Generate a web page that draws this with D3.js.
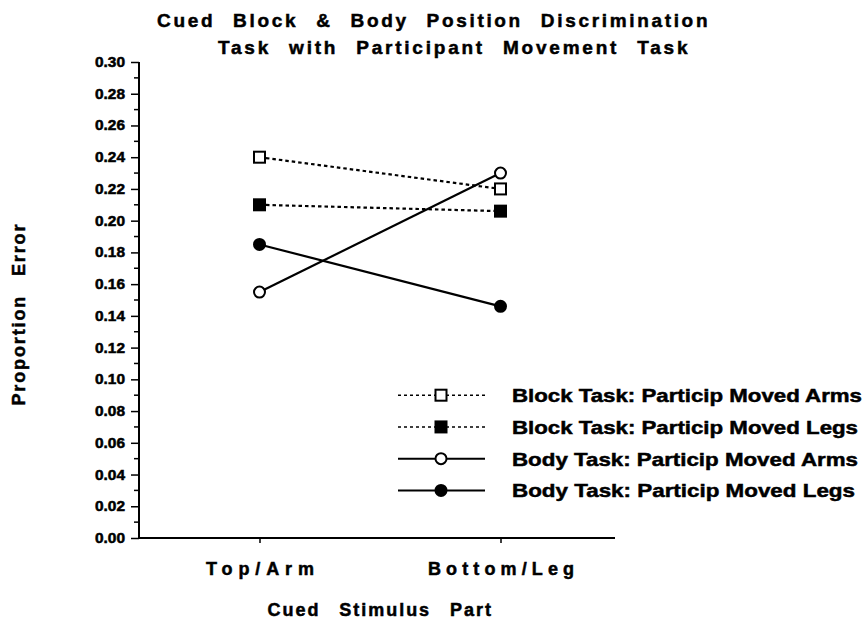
<!DOCTYPE html>
<html>
<head>
<meta charset="utf-8">
<script src="https://cdn.jsdelivr.net/npm/d3@7"></script>
<style>
  html, body { margin: 0; padding: 0; background: #fff; }
  svg text { font-family: "Liberation Sans", Arial, Helvetica, sans-serif; font-weight: bold; fill: #000; stroke: #000; stroke-width: 0.5px; }
</style>
</head>
<body>
<svg id="chart" width="865" height="619"></svg>
<script>
// ---- data ----
const categories = ["Top/Arm", "Bottom/Leg"];
const seriesNames = [
  "Block Task: Particip Moved Arms",
  "Block Task: Particip Moved Legs",
  "Body Task: Particip Moved Arms",
  "Body Task: Particip Moved Legs"
];
const blockArms = [0.240, 0.220];
const blockLegs = [0.210, 0.206];
const bodyArms  = [0.155, 0.230];
const bodyLegs  = [0.185, 0.146];
const yTicks = [0.00,0.02,0.04,0.06,0.08,0.10,0.12,0.14,0.16,0.18,0.20,0.22,0.24,0.26,0.28,0.30];
const titleLines = ["Cued Block & Body Position Discrimination", "Task with Participant Movement Task"];
const xTitle = "Cued Stimulus Part";
const yTitle = "Proportion Error";

const series = [
  {name: seriesNames[0], values: blockArms, dash: "3.5,3", marker: "square", fill: "#fff"},
  {name: seriesNames[1], values: blockLegs, dash: "3.5,3", marker: "square", fill: "#000"},
  {name: seriesNames[2], values: bodyArms,  dash: null,  marker: "circle", fill: "#fff"},
  {name: seriesNames[3], values: bodyLegs,  dash: null,  marker: "circle", fill: "#000"}
];

(function () {
const svg = d3.select("#chart");
const mLeft = 139, mRight = 621, mTop = 62, mBottom = 538;

const x = d3.scalePoint().domain(categories).range([mLeft, mRight]).padding(0.5);
const y = d3.scaleLinear().domain([0, 0.30]).range([mBottom, mTop]);

// title
svg.append("text").attr("x", 157).attr("y", 27).attr("font-size", 19)
  .attr("letter-spacing", "2.5px").attr("word-spacing", "10px")
  .attr("textLength", 553).attr("lengthAdjust", "spacing").text(titleLines[0]);
svg.append("text").attr("x", 218).attr("y", 54).attr("font-size", 19)
  .attr("letter-spacing", "2.5px").attr("word-spacing", "10px")
  .attr("textLength", 472).attr("lengthAdjust", "spacing").text(titleLines[1]);

// y axis
const yAxis = d3.axisLeft(y).tickValues(yTicks).tickFormat(d3.format(".2f")).tickSize(8).tickPadding(6);
const gy = svg.append("g").attr("transform", `translate(${mLeft},0)`).call(yAxis);
gy.select(".domain").attr("stroke", "#000").attr("stroke-width", 2).attr("d", `M0,${mTop}V${mBottom}`);
gy.selectAll(".tick line").attr("stroke", "#000").attr("stroke-width", 1.5);
gy.selectAll(".tick text").attr("font-size", 14).attr("font-family", "Liberation Sans, Arial, sans-serif")
  .attr("font-weight", "bold").attr("textLength", 30).attr("lengthAdjust", "spacingAndGlyphs");
// minor ticks
const minor = d3.range(0.01, 0.30, 0.02);
gy.selectAll(".minor").data(minor).enter().append("line")
  .attr("x1", -5).attr("x2", 0).attr("y1", d => y(d)).attr("y2", d => y(d))
  .attr("stroke", "#000").attr("stroke-width", 1.5);

// x axis
const xAxis = d3.axisBottom(x).tickSize(5).tickPadding(19);
const gx = svg.append("g").attr("transform", `translate(0,${mBottom})`).call(xAxis);
gx.select(".domain").attr("stroke", "#000").attr("stroke-width", 2).attr("d", `M${mLeft},0H615`);
gx.selectAll(".tick line").attr("stroke", "#000").attr("stroke-width", 1.5);
const xLabelLen = {"Top/Arm": 108, "Bottom/Leg": 146};
gx.selectAll(".tick text").attr("font-size", 18).attr("font-family", "Liberation Sans, Arial, sans-serif")
  .attr("font-weight", "bold").attr("textLength", d => xLabelLen[d]).attr("lengthAdjust", "spacing");

// axis titles
svg.append("text").attr("x", 380).attr("y", 616).attr("text-anchor", "middle").attr("font-size", 18)
  .attr("letter-spacing", "1.5px").attr("word-spacing", "12px")
  .attr("textLength", 225).attr("lengthAdjust", "spacing").text(xTitle);
svg.append("text").attr("transform", `translate(25,314) rotate(-90)`).attr("text-anchor", "middle")
  .attr("font-size", 18).attr("letter-spacing", "2px").attr("word-spacing", "12px")
  .attr("textLength", 183).attr("lengthAdjust", "spacing").text(yTitle);

function drawMarker(g, cx, cy, s) {
  if (s.marker === "square") {
    g.append("rect").attr("x", cx - 5.5).attr("y", cy - 5.5).attr("width", 11).attr("height", 11)
      .attr("fill", s.fill).attr("stroke", "#000").attr("stroke-width", 2);
  } else {
    g.append("circle").attr("cx", cx).attr("cy", cy).attr("r", 5.5)
      .attr("fill", s.fill).attr("stroke", "#000").attr("stroke-width", 2);
  }
}

// lines
const line = d3.line().x((d, i) => x(categories[i])).y(d => y(d));
series.forEach(s => {
  svg.append("path").datum(s.values).attr("d", line).attr("fill", "none")
    .attr("stroke", "#000").attr("stroke-width", 2.2).attr("stroke-dasharray", s.dash);
  s.values.forEach((v, i) => drawMarker(svg, x(categories[i]), y(v), s));
});

// legend
const legY = [0.09, 0.07, 0.05, 0.03];
const legLen = [350, 346, 346, 343];
series.forEach((s, i) => {
  const ly = y(legY[i]);
  svg.append("line").attr("x1", 398).attr("x2", 485).attr("y1", ly).attr("y2", ly)
    .attr("stroke", "#000").attr("stroke-width", s.dash ? 1.5 : 2).attr("stroke-dasharray", s.dash ? "3,3" : null);
  drawMarker(svg, 441, ly, s);
  svg.append("text").attr("x", 512).attr("y", ly + 7).attr("font-size", 19)
    .attr("textLength", legLen[i]).attr("lengthAdjust", "spacingAndGlyphs").text(s.name);
});
})();
</script>
</body>
</html>
